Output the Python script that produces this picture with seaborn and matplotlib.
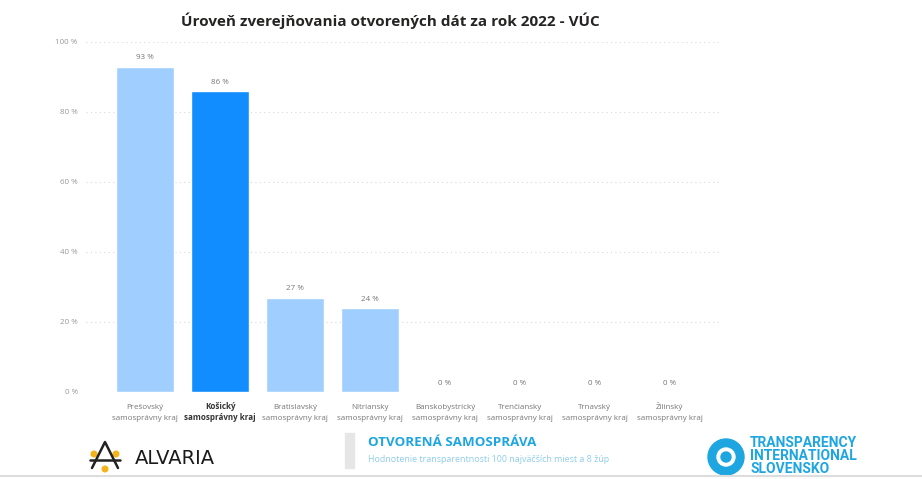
import matplotlib
matplotlib.use("Agg")
import matplotlib.pyplot as plt
import seaborn as sns
import pandas as pd
from matplotlib.patches import Circle, Rectangle
from matplotlib.lines import Line2D
from matplotlib.transforms import blended_transform_factory, offset_copy

categories = ["Prešovský\nsamosprávny kraj", "Košický\nsamosprávny kraj",
              "Bratislavský\nsamosprávny kraj", "Nitriansky\nsamosprávny kraj",
              "Banskobystrický\nsamosprávny kraj", "Trenčiansky\nsamosprávny kraj",
              "Trnavský\nsamosprávny kraj", "Žilinský\nsamosprávny kraj"]
values = [93, 86, 27, 24, 0, 0, 0, 0]
highlight = "Košický\nsamosprávny kraj"
yticks = [0, 20, 40, 60, 80, 100]
title = "Úroveň zverejňovania otvorených dát za rok 2022 - VÚC"

sns.set_theme(style="white")
plt.rcParams['font.family'] = ['Open Sans', 'DejaVu Sans']

W, H = 922, 479
fig = plt.figure(figsize=(W / 100, H / 100), dpi=100)
ax = fig.add_axes([86 / W, 1 - 392 / H, (720 - 86) / W, (392 - 42) / H])

df = pd.DataFrame({"cat": categories, "val": values})
light, dark = "#A0CFFF", "#118DFF"
palette = {c: (dark if c == highlight else light) for c in categories}
sns.barplot(data=df, x="cat", y="val", hue="cat", palette=palette, dodge=False,
            width=0.78, legend=False, ax=ax, saturation=1)

ax.set_xlim(-0.79, 7.67)
ax.set_ylim(0, 100)
ax.set_yticks(yticks)
ax.set_yticklabels([f"{t} %" for t in yticks], fontsize=5.8, color="#999999")
for t in yticks:
    ax.axhline(t, color="#d9d9d9", lw=0.8, ls=(0, (1, 3)), zorder=0)
ax.tick_params(axis="y", length=0, pad=6)
ax.set_xlabel("")
ax.set_ylabel("")
for s in ax.spines.values():
    s.set_visible(False)

ax.set_xticks(range(len(categories)))
ax.set_xticklabels([])
ax.tick_params(axis="x", length=0)
trans = blended_transform_factory(ax.transData, ax.transAxes)
for i, c in enumerate(categories):
    lines = c.split("\n")
    bold = c == highlight
    for k, line in enumerate(lines):
        t = offset_copy(trans, fig=fig, x=0, y=-(12.3 + 8.0 * k), units="points")
        ax.text(i, 0, line, transform=t, ha="center", va="baseline", fontsize=5.8,
                color="#333333" if bold else "#777777",
                fontweight="bold" if bold else "normal")

for i, v in enumerate(values):
    ax.text(i, v + 1.5, f"{v} %", ha="center", va="bottom", fontsize=5.8, color="#777777")

fig.text(390 / W, 1 - 21 / H, title, ha="center", va="center", fontsize=11,
         fontweight="bold", color="#252423")

# footer
def px(x, y):
    return (x / 100, (H - y) / 100)
it = fig.dpi_scale_trans
fig.add_artist(Line2D([0, W / 100], [(H - 476) / 100] * 2, transform=it,
                      color="#dddddd", lw=1.5))
# Alvaria logo approximation
lx, ly = 105, 455
xs = [px(lx - 13, ly + 13), px(lx, ly - 13), px(lx + 13, ly + 13)]
fig.add_artist(Line2D([p[0] for p in xs], [p[1] for p in xs], transform=it,
                      color="#222222", lw=1.8))
fig.add_artist(Line2D([px(lx - 15, 0)[0], px(lx + 15, 0)[0]],
                      [px(0, ly + 5)[1]] * 2, transform=it, color="#222222", lw=1.8))
for (dx, dy) in [(-11, -1), (11, -1), (0, 14)]:
    fig.add_artist(Circle(px(lx + dx, ly + dy), 0.028, transform=it, color="#F5B31A"))
fig.text(135 / W, 1 - 459 / H, "ALVARIA", ha="left", va="center", fontsize=14,
         color="#1a1a1a", family=["DejaVu Sans"])

# Otvorena samosprava
fig.add_artist(Rectangle(px(345, 468), 0.09, 0.35, transform=it, color="#e6e6e6"))
fig.text(368 / W, 1 - 443 / H, "OTVORENÁ SAMOSPRÁVA", ha="left", va="center",
         fontsize=9.6, fontweight="bold", color="#1EA6E0")
fig.text(368 / W, 1 - 459 / H, "Hodnotenie transparentnosti 100 najväčších miest a 8 žúp",
         ha="left", va="center", fontsize=6.4, color="#8fcdeb")

# Transparency International
fig.add_artist(Circle(px(726, 457), 0.18, transform=it, color="#1EA6E0"))
fig.add_artist(Circle(px(726, 457), 0.09, transform=it, color="white"))
fig.add_artist(Circle(px(726, 457), 0.05, transform=it, color="#1EA6E0"))
for k, line in enumerate(["TRANSPARENCY", "INTERNATIONAL", "SLOVENSKO"]):
    fig.text(750 / W, 1 - (443 + 13 * k) / H, line, ha="left", va="center",
             fontsize=10, fontweight="bold", color="#1EA6E0",
             family=["Roboto", "DejaVu Sans"])

fig.savefig("out.png", dpi=100)
